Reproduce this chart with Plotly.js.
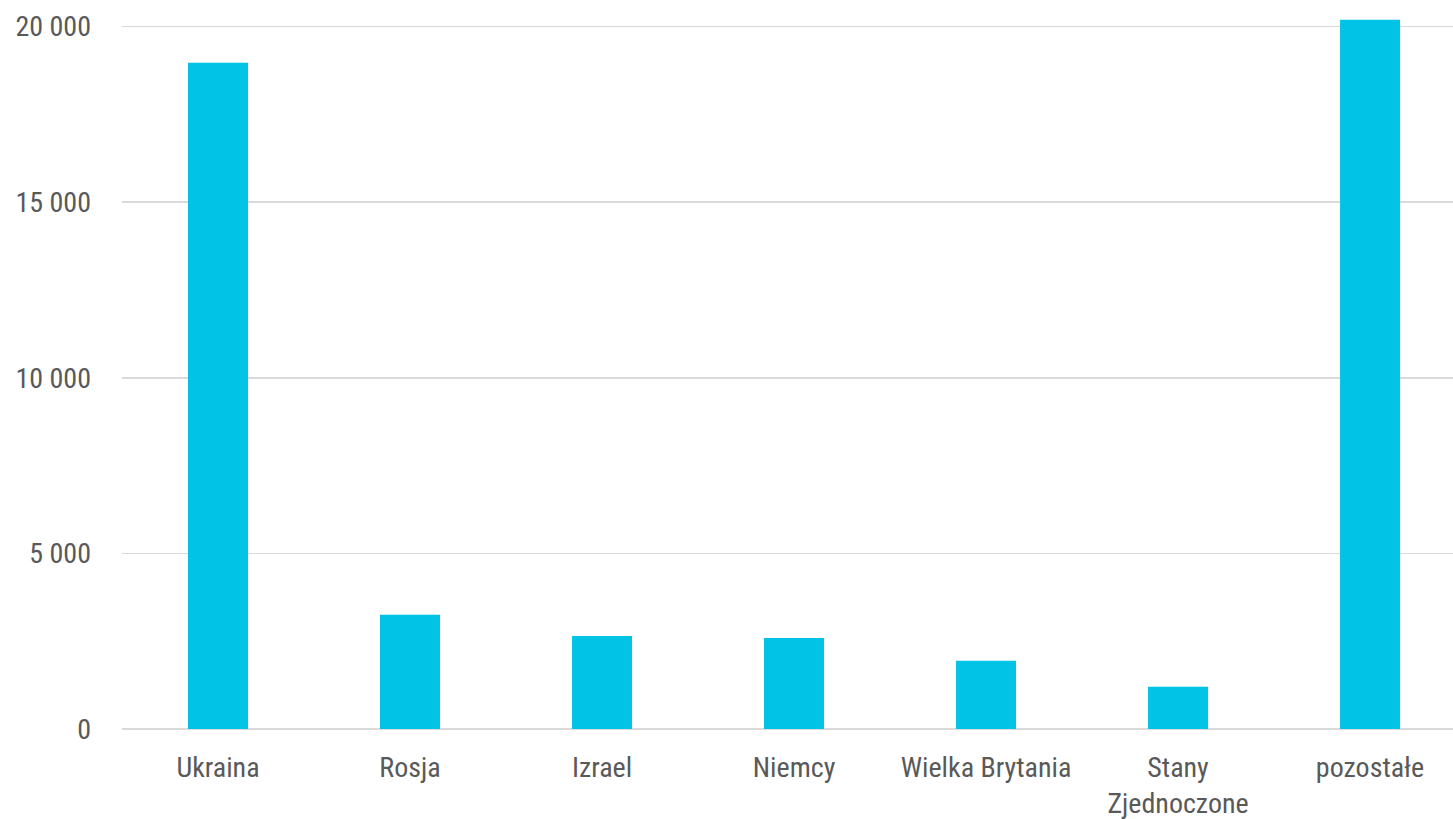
<!DOCTYPE html>
<html>
<head>
<meta charset="utf-8">
<script src="https://cdn.plot.ly/plotly-3.0.1.min.js"></script>
<style>html,body{margin:0;padding:0;background:#fff;}#chart{width:1453px;height:819px;}</style>
</head>
<body>
<div id="chart"></div>
<script>
const categories = ["Ukraina", "Rosja", "Izrael", "Niemcy", "Wielka Brytania", "Stany<br>Zjednoczone", "pozostałe"];
const values = [18970, 3250, 2650, 2590, 1940, 1200, 20190];
const tickValues = [0, 5000, 10000, 15000, 20000];
const tickLabels = ["0", "5 000", "10 000", "15 000", "20 000"];

const fontFamily = '"Liberation Sans Narrow", "Roboto Condensed", "DejaVu Sans Condensed", sans-serif';

Plotly.newPlot('chart', [{
  type: 'bar',
  x: categories,
  y: values,
  marker: {color: '#00C3E5'},
  hoverinfo: 'x+y'
}], {
  width: 1453,
  height: 819,
  margin: {l: 122, r: 0, t: 10, b: 90},
  paper_bgcolor: '#ffffff',
  plot_bgcolor: '#ffffff',
  bargap: 0.6875,
  showlegend: false,
  font: {family: fontFamily, size: 28, color: '#595959'},
  xaxis: {
    type: 'category',
    range: [-0.5, 6.432],
    showgrid: false,
    showline: false,
    zeroline: false,
    ticks: '',
    ticklabelstandoff: 19,
    tickfont: {family: fontFamily, size: 28, color: '#595959'},
    automargin: false
  },
  yaxis: {
    range: [0, 20470],
    tickvals: tickValues,
    ticktext: tickLabels,
    showgrid: true,
    gridcolor: '#d9d9d9',
    gridwidth: 1.5,
    zeroline: true,
    zerolinecolor: '#d9d9d9',
    zerolinewidth: 1.5,
    showline: false,
    ticks: '',
    ticklabelstandoff: 30,
    tickfont: {family: fontFamily, size: 28, color: '#595959'},
    automargin: false
  }
}, {displayModeBar: false, staticPlot: true});
</script>
</body>
</html>
